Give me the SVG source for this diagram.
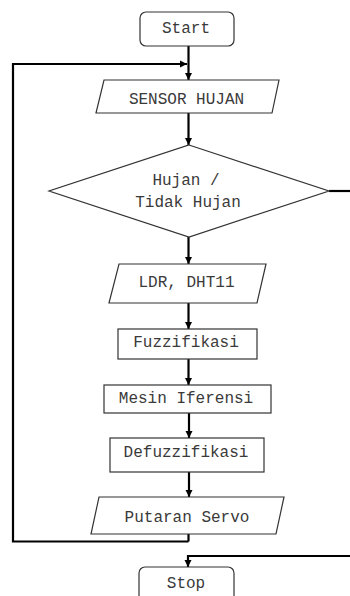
<svg xmlns="http://www.w3.org/2000/svg" width="350" height="596" viewBox="0 0 350 596">
<style>
.shape{fill:#fff;stroke:#333;stroke-width:1.2}
.lbl{font-family:"Liberation Mono","Courier New",monospace;font-size:16px;fill:#3a3a3a;text-anchor:middle}
.conn{fill:none;stroke:#000;stroke-width:2.2}
</style>
<defs>
<marker id="ah" viewBox="0 0 10 10" refX="10" refY="5" markerWidth="3.2" markerHeight="3.2" orient="auto" markerUnits="strokeWidth">
<path d="M0,0 L10,5 L0,10 z" fill="#000"/>
</marker>
</defs>
<g id="connectors">
<path class="conn" d="M188.5,46 V80" marker-end="url(#ah)"/>
<path class="conn" d="M188.5,541.5 H13 V64 H187" marker-end="url(#ah)"/>
<path class="conn" d="M188.5,534 V541.5"/>
<path class="conn" d="M188.5,113 V145" marker-end="url(#ah)"/>
<path class="conn" d="M329,191 H350"/>
<path class="conn" d="M188.5,237 V264" marker-end="url(#ah)"/>
<path class="conn" d="M188.5,303 V329" marker-end="url(#ah)"/>
<path class="conn" d="M188.5,359 V385" marker-end="url(#ah)"/>
<path class="conn" d="M189,413 V438" marker-end="url(#ah)"/>
<path class="conn" d="M189,472 V497" marker-end="url(#ah)"/>
<path class="conn" d="M350,556 H188 V567" marker-end="url(#ah)"/>
</g>
<g id="start">
<rect class="shape" x="140" y="12" width="94" height="34" rx="6"/>
<text class="lbl" x="186" y="33">Start</text>
</g>
<g id="sensor-hujan">
<polygon class="shape" points="104,80 279,80 272,113 96,113"/>
<text class="lbl" x="186.5" y="104">SENSOR HUJAN</text>
</g>
<g id="decision">
<polygon class="shape" points="189,145 329,191 189,237 49,191"/>
<text class="lbl" x="186" y="185">Hujan /</text>
<text class="lbl" x="188" y="207">Tidak Hujan</text>
</g>
<g id="ldr-dht11">
<polygon class="shape" points="119,264 266,264 257,303 109,303"/>
<text class="lbl" x="186.5" y="287">LDR, DHT11</text>
</g>
<g id="fuzzifikasi">
<rect class="shape" x="118" y="329" width="139" height="30"/>
<text class="lbl" x="186" y="347">Fuzzifikasi</text>
</g>
<g id="mesin-iferensi">
<rect class="shape" x="104" y="385" width="167" height="28"/>
<text class="lbl" x="186" y="403">Mesin Iferensi</text>
</g>
<g id="defuzzifikasi">
<rect class="shape" x="110" y="438" width="154" height="34"/>
<text class="lbl" x="186" y="457">Defuzzifikasi</text>
</g>
<g id="putaran-servo">
<polygon class="shape" points="99,497 284,497 276,534 91,534"/>
<text class="lbl" x="187" y="522">Putaran Servo</text>
</g>
<g id="stop">
<rect class="shape" x="139" y="567" width="95" height="40" rx="6"/>
<text class="lbl" x="186" y="588">Stop</text>
</g>
</svg>
